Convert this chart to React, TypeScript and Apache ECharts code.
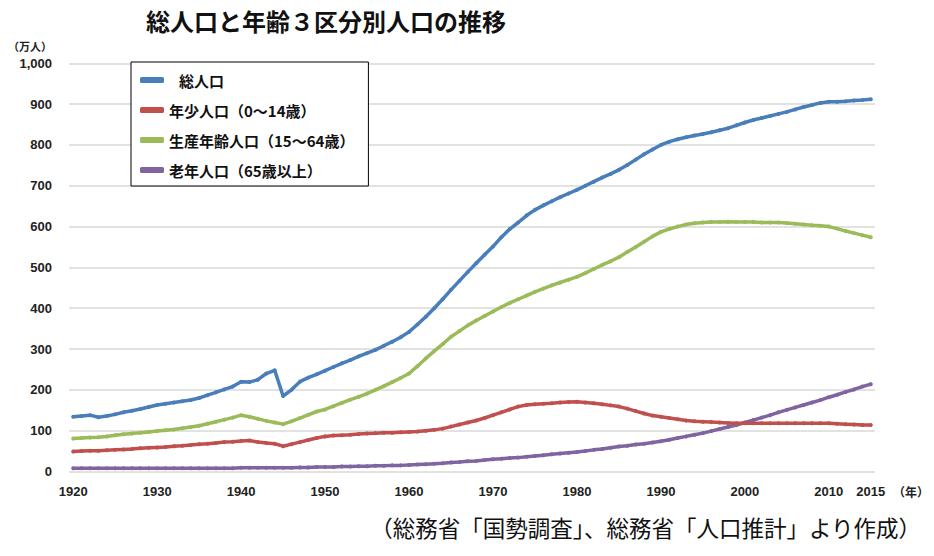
import React, { useEffect, useRef } from "react";
import * as echarts from "echarts";

const years: number[] = [];
for (let y = 1920; y <= 2015; y++) years.push(y);
const yearLabels = years.map(String);

const seriesNames = [
  "総人口",
  "年少人口（0～14歳）",
  "生産年齢人口（15～64歳）",
  "老年人口（65歳以上）",
];

// 1920..2015 (万人)
const total = [
  134, 136, 138, 133, 136, 140, 145, 149, 153, 158,
  163, 166, 169, 172, 175, 180, 187, 194, 201, 208,
  220, 219, 225, 240, 248, 185, 200, 220, 230, 238,
  247, 256, 265, 273, 282, 290, 298, 308, 318, 329,
  342, 360, 379, 400, 422, 445, 467, 489, 510, 531,
  551, 574, 594, 610, 627, 641, 652, 662, 672, 681,
  690, 700, 710, 720, 729, 739, 751, 764, 777, 789,
  800, 808, 814, 819, 823, 827, 831, 836, 841, 848,
  855, 861, 866, 871, 876, 881, 887, 893, 898, 903,
  906, 906, 907, 909, 910, 912,
];

const young = [
  49, 50, 51, 51, 52, 53, 54, 55, 57, 58,
  59, 60, 62, 63, 65, 67, 68, 70, 72, 73,
  75, 76, 72, 70, 68, 62, 67, 72, 77, 82,
  86, 88, 89, 90, 92, 93, 94, 95, 95, 96,
  97, 98, 100, 102, 105, 110, 115, 120, 125, 131,
  138, 145, 152, 159, 163, 165, 166, 167, 169, 170,
  171, 169, 167, 165, 162, 159, 154, 148, 142, 137,
  134, 131, 128, 125, 123, 122, 121, 120, 119, 118,
  118, 118, 118, 118, 118, 118, 118, 118, 118, 118,
  118, 117, 116, 115, 114, 114,
];

const working = [
  81, 82, 83, 84, 86, 89, 91, 93, 95, 97,
  99, 101, 103, 106, 109, 112, 117, 122, 127, 132,
  138, 134, 129, 124, 120, 116, 123, 131, 139, 147,
  152, 160, 168, 176, 183, 191, 200, 209, 219, 229,
  240, 258, 277, 295, 312, 330, 344, 358, 370, 381,
  392, 403, 413, 422, 431, 440, 448, 456, 463, 470,
  477, 486, 496, 506, 515, 525, 538, 550, 563, 576,
  587, 594, 600, 605, 608, 610, 611, 611, 612, 611,
  611, 611, 610, 610, 610, 609, 607, 605, 603, 602,
  600, 595, 589, 584, 579, 574,
];

const elderly = [
  8, 8, 8, 8, 8, 8, 8, 8, 8, 8,
  8, 8, 8, 8, 8, 8, 8, 8, 8, 8,
  9, 9, 9, 9, 9, 9, 9, 10, 10, 11,
  11, 11, 12, 12, 13, 13, 14, 14, 15, 15,
  16, 17, 18, 19, 20, 22, 23, 25, 26, 28,
  30, 31, 33, 34, 36, 38, 40, 42, 44, 46,
  48, 50, 53, 55, 58, 61, 63, 66, 68, 71,
  74, 78, 82, 86, 90, 94, 99, 104, 109, 114,
  120, 126, 132, 138, 145, 151, 157, 163, 169, 175,
  182, 188, 195, 201, 208, 214,
];

const colors = ["#4A7EBB", "#C0504D", "#9BBB59", "#8064A2"];
const seriesData = [total, young, working, elderly];

const JP = '"Noto Sans CJK JP", "Noto Sans", sans-serif';
const NUM = '"Liberation Sans", Arial, sans-serif';

export default function App() {
  const ref = useRef<HTMLDivElement>(null);

  useEffect(() => {
    document.body.style.margin = "0";
    if (!ref.current) return;
    const chart = echarts.init(ref.current, undefined, { renderer: "svg" });
    chart.setOption({
      animation: false,
      backgroundColor: "#ffffff",
      grid: { left: 69, right: 59, top: 63.3, bottom: 84.5, containLabel: false },
      legend: {
        orient: "vertical",
        left: 131,
        top: 62,
        padding: [8, 14, 6, 9],
        itemGap: 10,
        itemWidth: 24,
        itemHeight: 6,
        borderColor: "#000",
        borderWidth: 1,
        backgroundColor: "#fff",
        icon: "roundRect",
        textStyle: { fontFamily: JP, fontWeight: "bold", fontSize: 15, color: "#111", lineHeight: 20 },
        data: seriesNames.map((n, i) =>
          i === 0 ? { name: n, textStyle: { padding: [0, 0, 0, 10] } } : { name: n }
        ),
      },
      xAxis: {
        type: "category",
        data: yearLabels,
        boundaryGap: true,
        axisLine: { show: false },
        axisTick: { show: false },
        axisLabel: {
          interval: (idx: number, val: string) => {
            const y = Number(val);
            return y % 10 === 0 || y === 2015;
          },
          margin: 13,
          fontFamily: NUM,
          fontWeight: "bold",
          fontSize: 13,
          color: "#222",
          hideOverlap: false,
        },
        splitLine: { show: false },
      },
      yAxis: {
        type: "value",
        min: 0,
        max: 1000,
        interval: 100,
        axisLine: { show: false },
        axisTick: { show: false },
        axisLabel: {
          margin: 17,
          fontFamily: NUM,
          fontWeight: "bold",
          fontSize: 13,
          color: "#222",
          formatter: (v: number) => v.toLocaleString("en-US"),
        },
        splitLine: { lineStyle: { color: "#d9d9d9", width: 1.5 } },
      },
      series: seriesNames.map((name, i) => ({
        name,
        type: "line",
        data: seriesData[i],
        color: colors[i],
        symbol: "circle",
        symbolSize: 4,
        showSymbol: true,
        showAllSymbol: true,
        lineStyle: { width: 3.5, color: colors[i] },
        itemStyle: { color: colors[i] },
        z: 4 - i,
      })),
      graphic: [
        {
          type: "text",
          style: {
            text: "総人口と年齢３区分別人口の推移",
            x: 326,
            y: 20,
            align: "center",
            verticalAlign: "middle",
            font: `bold 24px ${JP}`,
            fill: "#111",
          },
        },
        {
          type: "text",
          style: {
            text: "（万人）",
            x: 30,
            y: 46,
            align: "center",
            verticalAlign: "middle",
            font: `bold 11px ${JP}`,
            fill: "#222",
          },
        },
        {
          type: "text",
          style: {
            text: "（年）",
            x: 911,
            y: 491,
            align: "center",
            verticalAlign: "middle",
            font: `bold 12px ${JP}`,
            fill: "#222",
          },
        },
        {
          type: "text",
          style: {
            text: "（総務省「国勢調査」、総務省「人口推計」より作成）",
            x: 921,
            y: 527,
            align: "right",
            verticalAlign: "middle",
            font: `22.5px ${JP}`,
            fill: "#111",
          },
        },
      ],
    });
    return () => chart.dispose();
  }, []);

  return <div ref={ref} style={{ width: 934, height: 556 }} />;
}
